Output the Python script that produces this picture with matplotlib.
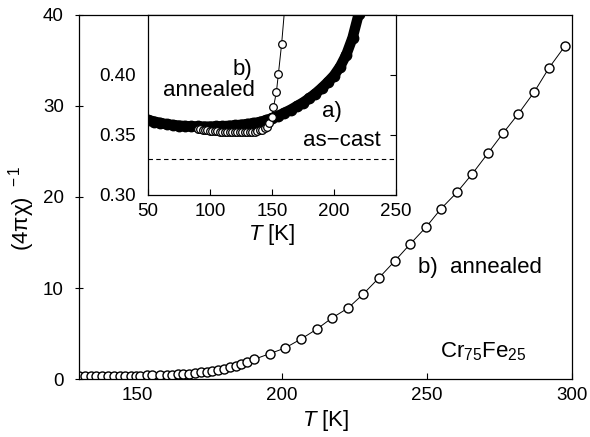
import matplotlib
matplotlib.use('Agg')
import matplotlib.pyplot as plt

plt.rcParams['font.family'] = ['Liberation Sans', 'DejaVu Sans']
plt.rcParams['mathtext.fontset'] = 'custom'
plt.rcParams['mathtext.rm'] = 'Liberation Sans'
plt.rcParams['mathtext.it'] = 'Liberation Sans:italic'

# b) annealed sample, T [K] and (4 pi chi)^-1
t_annealed = [90, 92, 94, 96, 98, 100, 102, 104, 106, 108, 110, 112, 114, 116, 118,
              120, 122, 124, 126, 128, 130, 132, 134, 136, 138, 140, 142, 144, 146,
              148, 149.8, 151.2, 153.6, 155.2, 157.8, 160.2, 162.2, 164.2, 166, 168,
              170, 172, 174, 176, 178, 180, 182, 184, 186, 188, 190.3, 195.9, 201.0,
              206.6, 212.1, 217.2, 222.8, 227.9, 233.4, 239.0, 244.1, 249.7, 254.8,
              260.3, 265.5, 271.0, 276.2, 281.4, 286.9, 292.1, 297.6]
chi_annealed = [0.3550, 0.3547, 0.3544, 0.3541, 0.3538, 0.3536, 0.3534, 0.3532, 0.3530,
                0.3529, 0.3528, 0.3527, 0.3526, 0.3525, 0.3524, 0.3523, 0.3522, 0.3522,
                0.3522, 0.3522, 0.3523, 0.3524, 0.3526, 0.3529, 0.3533, 0.3538, 0.3545,
                0.3555, 0.3570, 0.3600, 0.3650, 0.3730, 0.3860, 0.4010, 0.4260, 0.455,
                0.49, 0.52, 0.55, 0.60, 0.66, 0.72, 0.80, 0.90, 1.02, 1.15, 1.30, 1.45,
                1.65, 1.85, 2.15, 2.8, 3.4, 4.4, 5.5, 6.7, 7.8, 9.3, 11.1, 13.0, 14.8,
                16.7, 18.7, 20.5, 22.5, 24.8, 27.0, 29.1, 31.5, 34.2, 36.6]

# a) as-cast sample (inset only)
t_ascast = [50, 55, 60, 65, 70, 75, 80, 85, 90, 95, 100, 105, 110, 115, 120, 125, 130,
            135, 140, 145, 150, 155, 160, 165, 170, 175, 180, 185, 190, 195, 200, 205,
            210, 215, 220]
chi_ascast = [0.3625, 0.3612, 0.3600, 0.3590, 0.3583, 0.3578, 0.3574, 0.3572, 0.3571,
              0.3570, 0.3570, 0.3571, 0.3573, 0.3576, 0.3580, 0.3585, 0.3591, 0.3598,
              0.3608, 0.3622, 0.3640, 0.3660, 0.3685, 0.3710, 0.3740, 0.3770, 0.3805,
              0.3845, 0.3890, 0.3940, 0.3995, 0.4070, 0.4170, 0.4310, 0.4510]

dashed_level = 0.33

main_xticks = [150, 200, 250, 300]
main_yticks = [0, 10, 20, 30, 40]
inset_xticks = [50, 100, 150, 200, 250]
inset_yticks = [0.30, 0.35, 0.40]

W, H = 590, 437


def px_text(x, y, s, size=16):
    # place a label by its pixel centre, measured from the top-left corner
    fig.text(x / W, 1 - y / H, s, fontsize=size, ha='center', va='center')


fig = plt.figure(figsize=(5.9, 4.37), dpi=100)
ax = fig.add_axes([0.1339, 0.1327, 0.8356, 0.8330])

ax.plot(t_annealed, chi_annealed, color='black', lw=0.7, marker='o', ms=6.5,
        mfc='white', mec='black', mew=1.0)
ax.set_xlim(130, 300)
ax.set_ylim(0, 40)
ax.set_xticks(main_xticks)
ax.set_yticks(main_yticks)
ax.tick_params(axis='x', direction='in', length=4, width=0.8, labelsize=13.5, pad=6)
ax.tick_params(axis='y', direction='inout', length=6, width=0.8, labelsize=13.5, pad=8)
for s in ax.spines.values():
    s.set_linewidth(0.9)

ax.set_xlabel('$T$ [K]', fontsize=16)
ax.xaxis.set_label_coords(0.5, -0.08)
ax.set_ylabel('(4πχ)$^{\\;\\;-1}$', fontsize=16)
ax.yaxis.set_label_coords(-0.085, 0.47)

# inset
ins = fig.add_axes([0.2508, 0.5538, 0.4203, 0.4119])
ins.set_facecolor('white')
ins.plot(t_ascast, chi_ascast, color='black', lw=7.5, marker='o', ms=7.5,
         mfc='black', mec='black', solid_capstyle='round', zorder=2)
ins.plot(t_annealed, chi_annealed, color='black', lw=0.7, marker='o', ms=5.5,
         mfc='white', mec='black', mew=0.9, zorder=3)
ins.axhline(dashed_level, color='black', lw=0.8, ls=(0, (4, 3)))
ins.set_xlim(50, 250)
ins.set_ylim(0.30, 0.45)
ins.set_xticks(inset_xticks)
ins.set_yticks(inset_yticks)
ins.set_yticklabels(['0.30', '0.35', '0.40'])
ins.tick_params(axis='x', direction='in', length=4, width=0.8, labelsize=13.5, pad=6)
ins.tick_params(axis='y', direction='in', length=4, width=0.8, labelsize=13.5, pad=9,
                left=False, right=True, labelleft=True)
for s in ins.spines.values():
    s.set_linewidth(0.9)
ins.set_xlabel('$T$ [K]', fontsize=16, labelpad=1)

px_text(242, 70, 'b)')
px_text(209, 91, 'annealed')
px_text(332, 111, 'a)')
px_text(342, 141, 'as\u2212cast')
px_text(480, 268, 'b)  annealed')
px_text(483, 352, 'Cr$_{75}$Fe$_{25}$')

fig.savefig('out.png', dpi=100)
